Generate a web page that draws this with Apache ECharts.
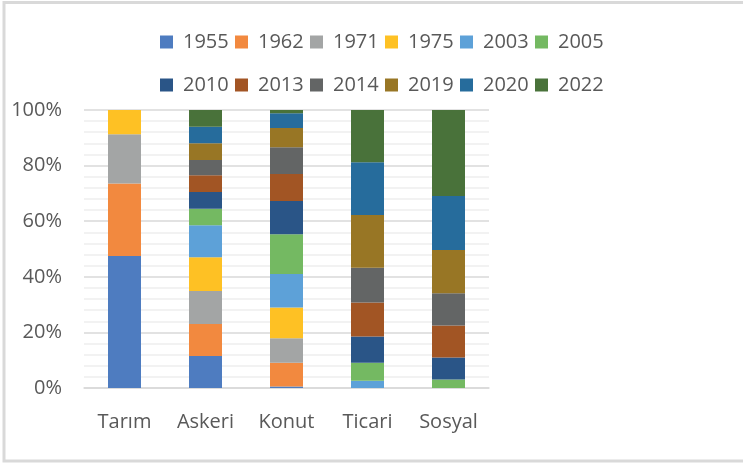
<!DOCTYPE html>
<html>
<head>
<meta charset="utf-8">
<script src="https://cdn.jsdelivr.net/npm/echarts@6/dist/echarts.min.js"></script>
<style>
html, body { margin: 0; padding: 0; background: #fff; }
#main { width: 743px; height: 464px; }
</style>
</head>
<body>
<div id="main"></div>
<script>
// kategoriler ve yillar
var categories = ['Tarım', 'Askeri', 'Konut', 'Ticari', 'Sosyal'];
var years = ['1955', '1962', '1971', '1975', '2003', '2005', '2010', '2013', '2014', '2019', '2020', '2022'];
var yTicks = [0, 20, 40, 60, 80, 100];

// her yil icin yuzde paylar (Tarım, Askeri, Konut, Ticari, Sosyal)
var y1955 = [47.5, 11.5, 0.5, 0, 0];
var y1962 = [26.1, 11.5, 8.6, 0, 0];
var y1971 = [17.7, 11.9, 8.8, 0, 0];
var y1975 = [8.7, 12.1, 11.1, 0, 0];
var y2003 = [0, 11.5, 12.0, 2.6, 0];
var y2005 = [0, 6.0, 14.3, 6.5, 3.1];
var y2010 = [0, 6.0, 12.0, 9.4, 7.9];
var y2013 = [0, 6.0, 9.7, 12.3, 11.5];
var y2014 = [0, 5.5, 9.6, 12.5, 11.6];
var y2019 = [0, 6.0, 6.9, 18.9, 15.5];
var y2020 = [0, 6.0, 5.3, 19.0, 19.5];
var y2022 = [0, 6.0, 1.2, 18.8, 30.9];

var seriesData = [y1955, y1962, y1971, y1975, y2003, y2005, y2010, y2013, y2014, y2019, y2020, y2022];
var colors = ['#4e7cc0', '#f2893f', '#a3a5a5', '#fec124', '#5da1d8', '#74b962',
	'#2a5587', '#a25524', '#636565', '#987625', '#266c9c', '#49723a'];

var fontFam = '"Open Sans", sans-serif';
var txtColor = '#595959';

var myChart = echarts.init(document.getElementById('main'));

var series = [];
for (var i = 0; i < years.length; i++) {
	series.push({
		name : years[i],
		type : 'bar',
		stack : 'toplam',
		barWidth : 33,
		data : seriesData[i],
		itemStyle : {
			color : colors[i]
		}
	});
}

function legendBox(top, names) {
	return {
		top : top,
		left : 160,
		padding : 0,
		itemWidth : 13,
		itemHeight : 13,
		itemGap : 6,
		icon : 'rect',
		data : names,
		textStyle : {
			fontFamily : fontFam,
			fontSize : 20,
			color : txtColor,
			width : 46,
			lineHeight : 24,
			padding : [0, 0, 0, 5]
		}
	};
}

var option = {
	animation : false,
	color : colors,
	legend : [ legendBox(30, years.slice(0, 6)), legendBox(73, years.slice(6)) ],
	grid : {
		left : 84,
		right : 254,
		top : 110,
		bottom : 76
	},
	xAxis : {
		type : 'category',
		data : categories,
		axisTick : { show : false },
		axisLine : { lineStyle : { color : '#d9d9d9', width : 1.5 } },
		axisLabel : {
			margin : 24,
			fontFamily : fontFam,
			fontSize : 20,
			color : txtColor
		}
	},
	yAxis : {
		type : 'value',
		min : yTicks[0],
		max : yTicks[yTicks.length - 1],
		interval : 20,
		axisLine : { show : false },
		axisTick : { show : false },
		axisLabel : {
			margin : 22,
			fontFamily : fontFam,
			fontSize : 20,
			color : txtColor,
			formatter : '{value}%'
		},
		splitLine : { lineStyle : { color : '#d9d9d9', width : 1.5 } },
		minorTick : { show : false, splitNumber : 5 },
		minorSplitLine : { show : true, lineStyle : { color : '#eeeeee', width : 1.5 } }
	},
	graphic : [ {
		type : 'rect',
		shape : { x : 4, y : 2.5, width : 780, height : 458.5 },
		style : { fill : 'none', stroke : '#d9d9d9', lineWidth : 3 },
		silent : true
	} ],
	series : series
};
myChart.setOption(option);
</script>
</body>
</html>
